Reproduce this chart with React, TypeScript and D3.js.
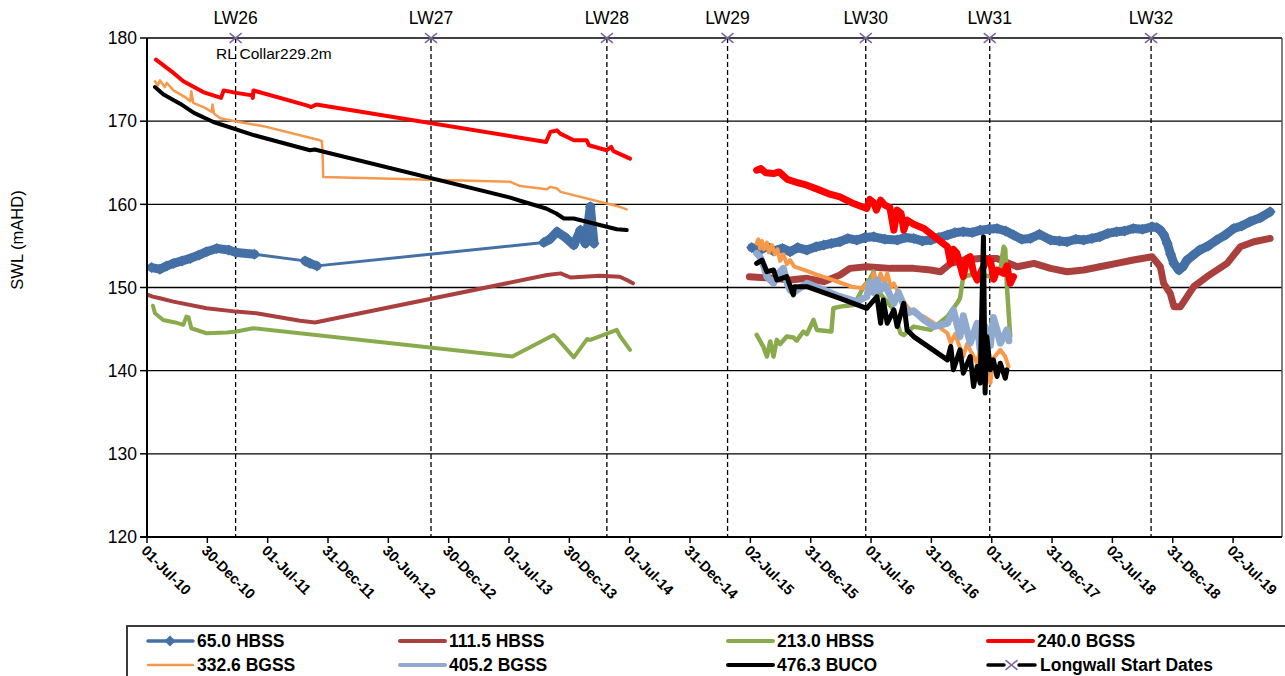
import React from "react";
import * as d3 from "d3";

type Pt = [string, number | null];

// ---------- data ----------
const yTicks = [120, 130, 140, 150, 160, 170, 180];
const xTickLabels = [
  "01-Jul-10", "30-Dec-10", "01-Jul-11", "31-Dec-11", "30-Jun-12", "30-Dec-12",
  "01-Jul-13", "30-Dec-13", "01-Jul-14", "31-Dec-14", "02-Jul-15", "31-Dec-15",
  "01-Jul-16", "31-Dec-16", "01-Jul-17", "31-Dec-17", "02-Jul-18", "31-Dec-18", "02-Jul-19",
];
const axisStart = "2010-07-01";
const axisEnd = "2019-11-24";
const tickStepDays = 182.5;

const longwallNames = ["LW26", "LW27", "LW28", "LW29", "LW30", "LW31", "LW32"];
const longwallDates = ["2011-03-26", "2012-11-06", "2014-04-22", "2015-04-22", "2016-06-13", "2017-06-23", "2018-10-24"];

const hbss65: Pt[] = [
  ["2010-07-15", 152.4], ["2010-08-09", 152.2], ["2010-08-30", 152.6], ["2010-09-19", 152.9],
  ["2010-10-15", 153.2], ["2010-11-09", 153.5], ["2010-12-05", 153.9], ["2010-12-28", 154.3],
  ["2011-01-28", 154.7], ["2011-03-05", 154.5], ["2011-03-28", 154.2], ["2011-05-22", 154.0],
  ["2011-10-22", 153.2], ["2011-11-06", 152.9], ["2011-11-27", 152.6],
  ["2013-10-13", 155.4], ["2013-10-31", 155.8], ["2013-11-22", 156.7], ["2013-12-18", 156.0],
  ["2014-01-12", 155.1], ["2014-02-01", 156.9], ["2014-02-16", 155.3], ["2014-03-03", 159.7],
  ["2014-03-14", 155.3],
  ["2015-01-01", null],
  ["2015-07-04", 154.8], ["2015-07-28", 154.5], ["2015-08-20", 154.9], ["2015-09-08", 154.4],
  ["2015-10-05", 154.7], ["2015-10-28", 154.3], ["2015-11-20", 154.8], ["2015-12-18", 154.5],
  ["2016-01-15", 154.9], ["2016-02-07", 155.1], ["2016-03-01", 155.3], ["2016-03-27", 155.5],
  ["2016-04-20", 155.9], ["2016-05-17", 155.7], ["2016-06-10", 156.0], ["2016-07-07", 156.1],
  ["2016-08-10", 155.8], ["2016-09-16", 155.7], ["2016-10-10", 156.0], ["2016-11-05", 155.9],
  ["2016-12-01", 155.6], ["2016-12-26", 155.7], ["2017-01-20", 156.0], ["2017-02-15", 156.3],
  ["2017-03-10", 156.6], ["2017-04-04", 156.7], ["2017-05-01", 156.6], ["2017-05-25", 156.9],
  ["2017-06-20", 157.0], ["2017-07-15", 157.1], ["2017-08-10", 156.8], ["2017-09-03", 156.3],
  ["2017-09-28", 155.8], ["2017-10-24", 155.9], ["2017-11-20", 156.4], ["2017-12-24", 155.7],
  ["2018-01-20", 155.6], ["2018-02-12", 155.5], ["2018-03-10", 155.8], ["2018-04-03", 155.7],
  ["2018-04-28", 155.9], ["2018-05-22", 156.1], ["2018-06-15", 156.5], ["2018-07-12", 156.7],
  ["2018-08-05", 156.8], ["2018-08-31", 157.1], ["2018-09-28", 157.0], ["2018-10-27", 157.3],
  ["2018-11-10", 157.2], ["2018-11-21", 156.9], ["2018-12-02", 156.3], ["2018-12-12", 155.3],
  ["2018-12-22", 154.0], ["2019-01-01", 152.9], ["2019-01-16", 152.1], ["2019-01-28", 152.5],
  ["2019-02-10", 153.3], ["2019-03-01", 153.9], ["2019-03-20", 154.5], ["2019-04-15", 155.0],
  ["2019-05-10", 155.7], ["2019-06-05", 156.3], ["2019-07-01", 157.1], ["2019-07-25", 157.4],
  ["2019-08-19", 157.9], ["2019-09-20", 158.4], ["2019-10-19", 159.1],
];

const hbss111: Pt[] = [
  ["2010-07-04", 149.1], ["2010-07-18", 148.9], ["2010-08-09", 148.7], ["2010-09-19", 148.3],
  ["2010-12-28", 147.5], ["2011-03-28", 147.1], ["2011-05-28", 146.9], ["2011-10-07", 146.0],
  ["2011-11-21", 145.8], ["2013-10-23", 151.5], ["2013-12-03", 151.7], ["2014-01-02", 151.2],
  ["2014-04-01", 151.4], ["2014-05-31", 151.3], ["2014-06-21", 150.9], ["2014-07-10", 150.5],
  ["2015-01-01", null],
  ["2015-06-27", 151.3], ["2015-09-08", 151.1], ["2015-10-28", 150.9], ["2015-12-18", 151.1],
  ["2016-02-07", 150.7], ["2016-03-27", 151.5], ["2016-04-26", 152.3], ["2016-06-16", 152.5],
  ["2016-08-27", 152.3], ["2016-11-05", 152.3], ["2016-12-26", 152.1], ["2017-01-25", 151.9],
  ["2017-02-25", 152.9], ["2017-04-04", 153.3], ["2017-05-25", 153.5], ["2017-07-15", 153.5],
  ["2017-09-14", 152.5], ["2017-11-04", 152.9], ["2017-12-24", 152.3], ["2018-02-12", 151.9],
  ["2018-04-03", 152.1], ["2018-05-22", 152.5], ["2018-07-12", 152.9], ["2018-08-31", 153.3],
  ["2018-10-27", 153.7], ["2018-11-21", 152.5], ["2018-12-01", 150.5], ["2018-12-21", 149.3],
  ["2019-01-01", 147.7], ["2019-01-21", 147.7], ["2019-02-10", 148.9], ["2019-03-02", 150.1],
  ["2019-04-11", 151.3], ["2019-06-11", 152.9], ["2019-07-21", 154.9], ["2019-08-31", 155.5],
  ["2019-10-19", 155.9],
];

const hbss213: Pt[] = [
  ["2010-07-19", 147.8], ["2010-07-25", 146.9], ["2010-08-19", 146.1], ["2010-09-24", 145.8],
  ["2010-10-19", 145.5], ["2010-10-28", 146.5], ["2010-11-04", 146.4], ["2010-11-12", 145.1],
  ["2010-12-28", 144.5], ["2011-02-28", 144.6], ["2011-03-28", 144.7], ["2011-05-18", 145.1],
  ["2013-07-10", 141.7], ["2013-11-12", 144.3], ["2013-11-20", 144.0], ["2014-01-12", 141.6],
  ["2014-02-21", 143.8], ["2014-03-03", 143.7], ["2014-05-22", 144.9], ["2014-05-31", 144.2],
  ["2014-07-01", 142.5],
  ["2015-01-01", null],
  ["2015-07-19", 144.3], ["2015-07-29", 143.6], ["2015-08-08", 142.9], ["2015-08-19", 141.7],
  ["2015-08-29", 143.5], ["2015-09-08", 141.7], ["2015-09-18", 143.7], ["2015-09-28", 143.2],
  ["2015-10-18", 144.1], ["2015-11-07", 144.0], ["2015-11-17", 143.6], ["2015-12-07", 144.7],
  ["2015-12-18", 144.4], ["2016-01-07", 146.1], ["2016-01-17", 144.9], ["2016-03-01", 144.7],
  ["2016-03-07", 147.5], ["2016-03-27", 147.7], ["2016-05-07", 147.9], ["2016-05-22", 148.9],
  ["2016-06-06", 150.1], ["2016-06-27", 151.1], ["2016-07-07", 151.9], ["2016-07-17", 149.7],
  ["2016-08-12", 148.5], ["2016-09-06", 147.3], ["2016-09-26", 144.5], ["2016-10-06", 144.3],
  ["2016-11-05", 145.3], ["2016-12-26", 144.9], ["2017-02-15", 146.5], ["2017-03-16", 148.1],
  ["2017-03-25", 148.7], ["2017-04-04", 151.3], ["2017-04-25", 151.5], ["2017-05-25", 151.6],
  ["2017-06-25", 151.3], ["2017-07-25", 152.1], ["2017-08-04", 154.9], ["2017-08-09", 154.6],
  ["2017-08-14", 150.1], ["2017-08-24", 144.1],
];

const bgss240: Pt[] = [
  ["2010-07-28", 177.4], ["2010-08-10", 177.0], ["2010-09-19", 175.8], ["2010-10-19", 174.8],
  ["2010-12-18", 173.5], ["2011-02-10", 172.8], ["2011-02-18", 173.7], ["2011-03-28", 173.4],
  ["2011-05-15", 173.1], ["2011-05-17", 172.8], ["2011-05-19", 173.7], ["2011-10-27", 171.9],
  ["2011-11-10", 171.7], ["2011-11-25", 172.0], ["2013-10-20", 167.5], ["2013-11-02", 168.7],
  ["2013-11-22", 168.9], ["2013-12-02", 168.5], ["2014-01-12", 167.7], ["2014-02-20", 167.7],
  ["2014-02-27", 167.1], ["2014-04-21", 166.5], ["2014-05-05", 166.9], ["2014-05-12", 166.4],
  ["2014-07-01", 165.5],
  ["2015-01-01", null],
  ["2015-07-19", 164.1], ["2015-08-01", 164.3], ["2015-08-15", 163.8], ["2015-09-08", 163.7],
  ["2015-09-25", 163.9], ["2015-10-20", 163.0], ["2015-11-20", 162.6], ["2015-12-18", 162.3],
  ["2016-01-20", 161.8], ["2016-02-20", 161.3], ["2016-03-27", 160.9], ["2016-05-01", 160.2],
  ["2016-06-16", 159.5], ["2016-06-25", 160.6], ["2016-07-07", 160.2], ["2016-07-15", 159.3],
  ["2016-07-28", 160.5], ["2016-08-10", 159.9], ["2016-08-25", 159.6], ["2016-09-06", 156.9],
  ["2016-09-16", 159.3], ["2016-09-28", 158.9], ["2016-10-06", 156.9], ["2016-10-16", 158.1],
  ["2016-11-05", 157.6], ["2016-12-06", 157.1], ["2017-01-10", 156.0], ["2017-02-15", 154.9],
  ["2017-02-25", 152.9], ["2017-03-05", 154.6], ["2017-03-16", 154.1], ["2017-04-04", 151.3],
  ["2017-04-15", 153.5], ["2017-04-25", 153.7], ["2017-05-05", 151.8], ["2017-05-16", 150.9],
  ["2017-06-04", 152.5], ["2017-06-15", 153.4], ["2017-06-25", 153.3], ["2017-07-05", 151.0],
  ["2017-07-15", 152.1], ["2017-08-04", 151.7], ["2017-08-14", 152.6], ["2017-08-24", 150.5],
  ["2017-09-03", 151.3],
];

const bgss332: Pt[] = [
  ["2010-07-25", 174.8], ["2010-08-03", 174.3], ["2010-08-09", 174.9], ["2010-08-24", 174.1],
  ["2010-08-30", 174.6], ["2010-09-19", 173.7], ["2010-10-24", 172.9], ["2010-11-09", 172.4],
  ["2010-11-12", 173.6], ["2010-11-18", 172.2], ["2010-12-24", 171.6], ["2011-01-13", 171.1],
  ["2011-01-15", 172.0], ["2011-01-20", 170.9], ["2011-02-08", 170.35], ["2011-03-28", 169.95],
  ["2011-06-18", 169.4], ["2011-11-06", 168.0], ["2011-12-06", 167.7], ["2011-12-12", 167.6],
  ["2011-12-14", 166.2], ["2011-12-16", 163.3], ["2013-07-04", 162.7], ["2013-08-03", 162.2],
  ["2013-10-23", 161.8], ["2013-11-02", 162.1], ["2013-11-22", 161.9], ["2013-12-03", 161.5],
  ["2014-05-31", 159.7], ["2014-06-21", 159.4],
  ["2015-01-01", null],
  ["2015-07-19", 155.3], ["2015-07-24", 155.8], ["2015-07-29", 154.7], ["2015-08-04", 155.6],
  ["2015-08-10", 154.6], ["2015-08-19", 155.4], ["2015-08-25", 154.2], ["2015-09-03", 155.1],
  ["2015-09-12", 154.0], ["2015-09-20", 154.6], ["2015-09-28", 153.2], ["2015-10-08", 154.0],
  ["2015-10-18", 152.8], ["2015-10-28", 153.3], ["2015-11-10", 152.5], ["2015-12-18", 152.0],
  ["2016-01-20", 151.5], ["2016-02-20", 151.1], ["2016-03-27", 150.6], ["2016-05-01", 150.1],
  ["2016-06-06", 149.9], ["2016-06-16", 150.5], ["2016-06-28", 149.6], ["2016-07-07", 151.7],
  ["2016-07-17", 150.3], ["2016-07-28", 151.7], ["2016-08-08", 150.4], ["2016-08-17", 151.7],
  ["2016-08-28", 150.0], ["2016-09-06", 150.5], ["2016-09-26", 148.9], ["2016-10-16", 147.7],
  ["2016-11-05", 146.9], ["2016-12-06", 146.5], ["2017-01-05", 145.7], ["2017-02-15", 144.5],
  ["2017-02-25", 143.3], ["2017-03-10", 144.4], ["2017-04-04", 141.7], ["2017-04-15", 143.2],
  ["2017-05-16", 140.9], ["2017-05-25", 142.6], ["2017-06-14", 140.1], ["2017-06-25", 138.5],
  ["2017-07-04", 141.5], ["2017-07-25", 142.5], ["2017-08-09", 141.7], ["2017-08-19", 140.5],
];

const bgss405: Pt[] = [
  ["2015-07-19", 154.1], ["2015-07-29", 153.7], ["2015-08-10", 152.5], ["2015-08-19", 151.3],
  ["2015-09-08", 150.5], ["2015-09-20", 151.6], ["2015-10-08", 152.3], ["2015-10-20", 150.4],
  ["2015-10-28", 149.7], ["2015-11-07", 149.4], ["2015-12-18", 150.5], ["2016-02-07", 149.7],
  ["2016-03-27", 148.9], ["2016-05-17", 148.3], ["2016-06-16", 148.9], ["2016-06-26", 150.6],
  ["2016-07-07", 149.4], ["2016-07-17", 150.9], ["2016-07-28", 149.7], ["2016-08-10", 150.3],
  ["2016-09-06", 148.1], ["2016-09-20", 149.4], ["2016-10-16", 146.9], ["2016-11-05", 147.2],
  ["2016-12-06", 146.1], ["2017-01-05", 145.3], ["2017-02-15", 145.7], ["2017-03-05", 147.3],
  ["2017-03-25", 144.1], ["2017-04-04", 146.6], ["2017-04-25", 143.3], ["2017-05-16", 145.7],
  ["2017-05-25", 142.5], ["2017-06-09", 145.3], ["2017-06-25", 143.0], ["2017-07-04", 146.4],
  ["2017-07-15", 144.9], ["2017-07-25", 143.3], ["2017-08-14", 144.9], ["2017-08-20", 143.6],
];

const buco476: Pt[] = [
  ["2010-07-25", 174.1], ["2010-08-20", 173.2], ["2010-10-09", 172.1], ["2010-11-20", 171.0],
  ["2011-01-18", 169.9], ["2011-05-22", 168.3], ["2011-06-10", 168.1], ["2011-11-06", 166.5],
  ["2011-11-20", 166.6], ["2013-07-04", 160.8], ["2013-08-05", 160.4], ["2013-10-20", 159.5],
  ["2013-11-20", 158.9], ["2013-12-13", 158.3], ["2014-01-12", 158.3], ["2014-05-22", 157.0],
  ["2014-06-21", 156.9],
  ["2015-01-01", null],
  ["2015-07-19", 152.9], ["2015-08-04", 153.3], ["2015-08-19", 151.9], ["2015-09-08", 152.1],
  ["2015-09-18", 150.9], ["2015-10-18", 151.3], ["2015-11-07", 149.1], ["2015-11-10", 150.1],
  ["2015-12-18", 150.1], ["2016-03-27", 148.7], ["2016-06-16", 147.5], ["2016-07-17", 148.9],
  ["2016-07-28", 145.7], ["2016-08-05", 148.5], ["2016-08-17", 145.7], ["2016-09-06", 147.3],
  ["2016-09-16", 145.3], ["2016-10-06", 148.1], ["2016-10-16", 144.9], ["2016-11-05", 144.1],
  ["2017-02-15", 141.3], ["2017-02-25", 142.9], ["2017-03-05", 140.1], ["2017-03-25", 142.5],
  ["2017-04-04", 139.7], ["2017-04-25", 141.7], ["2017-05-05", 138.1], ["2017-05-16", 140.5],
  ["2017-05-25", 138.5], ["2017-06-04", 156.1], ["2017-06-09", 137.3], ["2017-06-14", 144.1],
  ["2017-06-25", 140.1], ["2017-07-04", 141.3], ["2017-07-15", 139.3], ["2017-07-25", 140.9],
  ["2017-08-09", 139.1], ["2017-08-14", 140.1],
];

const seriesNames = ["65.0 HBSS", "111.5 HBSS", "213.0 HBSS", "240.0 BGSS", "332.6 BGSS", "405.2 BGSS", "476.3 BUCO"];
const longwallLegend = "Longwall Start Dates";
const collarNote = "RL Collar229.2m";
const yAxisTitle = "SWL (mAHD)";

// ---------- styles ----------
const FONT = "'Liberation Sans', Arial, sans-serif";
const C_BLUE = "#4470A6";
const C_BROWN = "#A9403E";
const C_GREEN = "#8AAA4E";
const C_RED = "#FF0000";
const C_ORANGE = "#F7994A";
const C_LBLUE = "#8FA9CF";
const C_BLACK = "#000000";
const C_PURPLE = "#7D63A0";

const parse = d3.utcParse("%Y-%m-%d");
const W = 1285, H = 676;
const X0 = 147, X1 = 1282, Y0 = 537, Y1 = 38;

const x = d3.scaleUtc().domain([parse(axisStart)!, parse(axisEnd)!]).range([X0, X1]);
const y = d3.scaleLinear().domain([120, 180]).range([Y0, Y1]);

function segs(data: Pt[]): [Date, number][][] {
  const out: [Date, number][][] = [];
  let cur: [Date, number][] = [];
  for (const [d, v] of data) {
    if (v === null) { if (cur.length) out.push(cur); cur = []; }
    else cur.push([parse(d)!, v]);
  }
  if (cur.length) out.push(cur);
  return out;
}

const line = d3.line<[Date, number]>().x((d) => x(d[0])).y((d) => y(d[1])).curve(d3.curveLinear);

function Series({ data, color, widths }: { data: Pt[]; color: string; widths: number[] }) {
  return (
    <g>
      {segs(data).map((s, i) => (
        <path key={i} d={line(s) || ""} fill="none" stroke={color}
          strokeWidth={widths[Math.min(i, widths.length - 1)]} strokeLinejoin="round" strokeLinecap="round" />
      ))}
    </g>
  );
}

function diamond(cx: number, cy: number, r: number) {
  return `M${cx},${cy - r}L${cx + r},${cy}L${cx},${cy + r}L${cx - r},${cy}Z`;
}

function BlueSeries({ data }: { data: Pt[] }) {
  const parts = segs(data);
  const els: React.ReactNode[] = [];
  parts.forEach((s, si) => {
    for (let i = 1; i < s.length; i++) {
      const gap = (s[i][0].getTime() - s[i - 1][0].getTime()) / 864e5;
      els.push(
        <line key={`l${si}-${i}`} x1={x(s[i - 1][0])} y1={y(s[i - 1][1])} x2={x(s[i][0])} y2={y(s[i][1])}
          stroke={C_BLUE} strokeWidth={gap < 70 ? 9 : 3} strokeLinecap="round" />
      );
    }
    s.forEach((p, i) => {
      els.push(<path key={`m${si}-${i}`} d={diamond(x(p[0]), y(p[1]), 5.5)} fill={C_BLUE} />);
    });
  });
  return <g>{els}</g>;
}

function XMark({ cx, cy, r, color, w = 1.5 }: { cx: number; cy: number; r: number; color: string; w?: number }) {
  return (
    <g stroke={color} strokeWidth={w}>
      <line x1={cx - r} y1={cy - r * 0.8} x2={cx + r} y2={cy + r * 0.8} />
      <line x1={cx - r} y1={cy + r * 0.8} x2={cx + r} y2={cy - r * 0.8} />
    </g>
  );
}

export default function App() {
  React.useEffect(() => { document.body.style.margin = "0"; }, []);
  const start = parse(axisStart)!;
  const tickDates = xTickLabels.map((_, i) => new Date(start.getTime() + i * tickStepDays * 864e5));
  const lwX = longwallDates.map((d) => x(parse(d)!));

  const legendCols = [148, 400, 728, 988];
  const legendRows = [641, 665];
  const legendItems: { name: string; kind: string; color: string; w: number }[] = [
    { name: seriesNames[0], kind: "diamond", color: C_BLUE, w: 3.5 },
    { name: seriesNames[1], kind: "line", color: C_BROWN, w: 4 },
    { name: seriesNames[2], kind: "line", color: C_GREEN, w: 4 },
    { name: seriesNames[3], kind: "line", color: C_RED, w: 4 },
    { name: seriesNames[4], kind: "line", color: C_ORANGE, w: 2.5 },
    { name: seriesNames[5], kind: "line", color: C_LBLUE, w: 4 },
    { name: seriesNames[6], kind: "line", color: C_BLACK, w: 4 },
    { name: longwallLegend, kind: "lw", color: C_BLACK, w: 3 },
  ];

  return (
    <svg width={W} height={H} style={{ position: "absolute", left: 0, top: 0, background: "#fff" }} fontFamily={FONT}>
      <rect x={0} y={0} width={W} height={H} fill="#fff" />

      {/* gridlines */}
      {yTicks.filter((t) => t > 120).map((t) => (
        <line key={t} x1={X0} x2={X1} y1={y(t)} y2={y(t)} stroke="#000" strokeWidth={1.3} />
      ))}
      {/* right border */}
      <line x1={X1} x2={X1} y1={Y1} y2={Y0} stroke="#555" strokeWidth={1.5} />

      {/* longwall dashed lines */}
      {lwX.map((lx, i) => (
        <line key={i} x1={lx} x2={lx} y1={Y1} y2={Y0} stroke="#000" strokeWidth={1.3} strokeDasharray="5,3" />
      ))}

      {/* series */}
      <BlueSeries data={hbss65} />
      <Series data={hbss111} color={C_BROWN} widths={[4, 7]} />
      <Series data={hbss213} color={C_GREEN} widths={[4, 4.5]} />
      <Series data={bgss240} color={C_RED} widths={[4, 7]} />
      <Series data={bgss332} color={C_ORANGE} widths={[2.5, 4]} />
      <Series data={bgss405} color={C_LBLUE} widths={[7]} />
      <Series data={buco476} color={C_BLACK} widths={[4, 5]} />

      {/* axes */}
      <line x1={X0} x2={X0} y1={Y1} y2={Y0} stroke="#000" strokeWidth={2} />
      <line x1={X0 - 7} x2={X1} y1={Y0} y2={Y0} stroke="#000" strokeWidth={2} />
      {yTicks.map((t) => (
        <g key={t}>
          <line x1={X0 - 7} x2={X0} y1={y(t)} y2={y(t)} stroke="#000" strokeWidth={1.5} />
          <text x={137} y={y(t)} dy="0.36em" textAnchor="end" fontSize={17.5} fill="#000">{t}</text>
        </g>
      ))}
      {tickDates.map((d, i) => (
        <g key={i}>
          <line x1={x(d)} x2={x(d)} y1={Y0} y2={Y0 + 6} stroke="#000" strokeWidth={1.5} />
          <text transform={`translate(${x(d) - 3},${Y0 + 11}) rotate(45)`} fontSize={14.5} fontWeight="bold" fill="#000" dy="0.35em">
            {xTickLabels[i]}
          </text>
        </g>
      ))}
      <text transform={`translate(23,${240}) rotate(-90)`} textAnchor="middle" fontSize={16.5} fill="#000">{yAxisTitle}</text>

      {/* longwall markers & labels */}
      {lwX.map((lx, i) => (
        <g key={i}>
          <XMark cx={lx} cy={Y1} r={6} color={C_PURPLE} />
          <text x={lx} y={24} textAnchor="middle" fontSize={17.5} fill="#000">{longwallNames[i]}</text>
        </g>
      ))}
      <text x={216} y={59} fontSize={15.5} fill="#000">{collarNote}</text>

      {/* legend */}
      <rect x={127} y={626} width={1200} height={80} fill="#fff" stroke="#3a3a3a" strokeWidth={2} />
      {legendItems.map((it, i) => {
        const cx = legendCols[i % 4];
        const cy = legendRows[Math.floor(i / 4)];
        return (
          <g key={i}>
            {it.kind === "lw" ? (
              <g>
                <line x1={cx} x2={cx + 16} y1={cy} y2={cy} stroke="#000" strokeWidth={3.5} strokeLinecap="round" />
                <line x1={cx + 31} x2={cx + 47} y1={cy} y2={cy} stroke="#000" strokeWidth={3.5} strokeLinecap="round" />
                <XMark cx={cx + 23.5} cy={cy} r={6} color={C_PURPLE} />
              </g>
            ) : (
              <line x1={cx} x2={cx + 45} y1={cy} y2={cy} stroke={it.color} strokeWidth={it.w} strokeLinecap="round" />
            )}
            {it.kind === "diamond" && <path d={diamond(cx + 22, cy, 5.5)} fill={it.color} />}
            <text x={cx + (it.kind === "lw" ? 52 : 49)} y={cy} dy="0.36em" fontSize={17.5} fontWeight="bold" fill="#000">{it.name}</text>
          </g>
        );
      })}
    </svg>
  );
}
